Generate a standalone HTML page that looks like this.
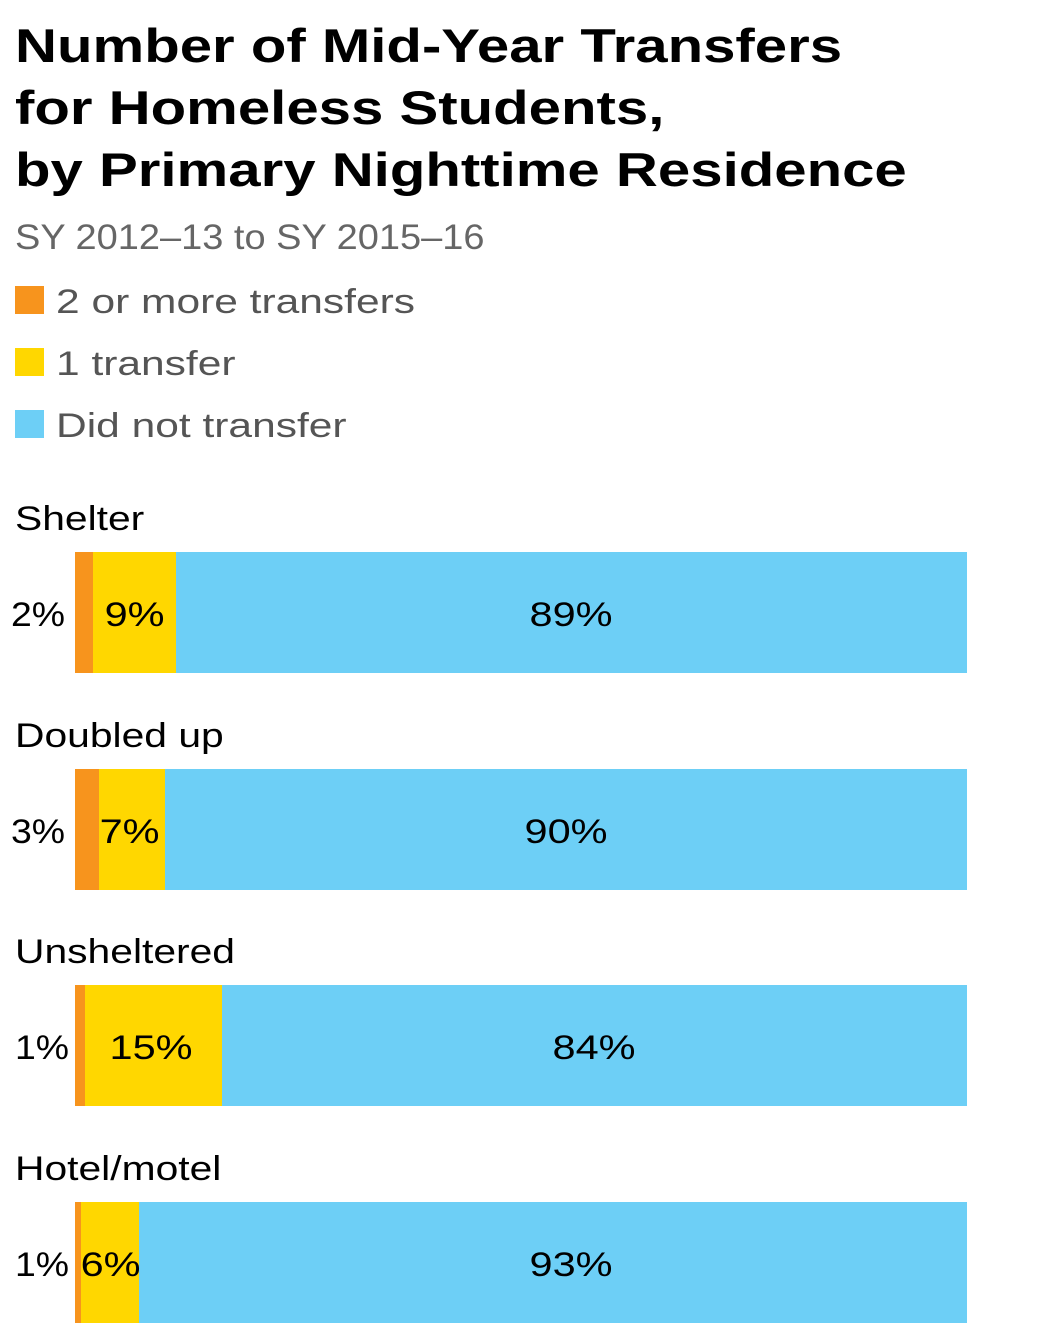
<!DOCTYPE html>
<html><head><meta charset="utf-8"><style>
body{margin:0;width:1050px;height:1338px;background:#fff;font-family:"Liberation Sans",sans-serif;position:relative;overflow:hidden}
.a{position:absolute;white-space:nowrap;transform-origin:0 0}
.t{left:15px;font-weight:bold;font-size:47px;color:#000;transform:scaleX(1.237)}
.sw{position:absolute;left:15px;width:29px;height:28px}
.lg{left:56px;font-size:34px;color:#555;transform:scaleX(1.25)}
.cat{left:15px;font-size:34px;color:#000;transform:scaleX(1.2)}
.bar{position:absolute;height:121px}
.v{font-size:34px;color:#000;position:absolute;text-align:center}
.v span{display:inline-block;transform:scaleX(1.22)}
.v span.l{transform-origin:0 0;transform:scaleX(1.1)}
</style></head><body>
<div class="a t" style="top:18px">Number of Mid-Year Transfers</div>
<div class="a t" style="top:80px">for Homeless Students,</div>
<div class="a t" style="top:142px">by Primary Nighttime Residence</div>
<div class="a" style="left:15px;top:218px;font-size:35px;color:#666;transform:scaleX(1.085)">SY 2012–13 to SY 2015–16</div>
<div class="sw" style="top:286px;background:#F7941D"></div><div class="a lg" style="top:283px">2 or more transfers</div>
<div class="sw" style="top:348px;background:#FFD700"></div><div class="a lg" style="top:345px">1 transfer</div>
<div class="sw" style="top:410px;background:#6DCFF6"></div><div class="a lg" style="top:407px">Did not transfer</div>

<div class="a cat" style="top:500px">Shelter</div>
<div class="bar" style="top:552px;left:75px;width:18px;background:#F7941D"></div>
<div class="bar" style="top:552px;left:93px;width:83px;background:#FFD700"></div>
<div class="bar" style="top:552px;left:176px;width:791px;background:#6DCFF6"></div>
<div class="v" style="left:11px;top:596px"><span class="l">2%</span></div>
<div class="v" style="left:93px;width:83px;top:596px"><span>9%</span></div>
<div class="v" style="left:176px;width:791px;top:596px"><span>89%</span></div>

<div class="a cat" style="top:717px">Doubled up</div>
<div class="bar" style="top:769px;left:75px;width:24px;background:#F7941D"></div>
<div class="bar" style="top:769px;left:99px;width:66px;background:#FFD700"></div>
<div class="bar" style="top:769px;left:165px;width:802px;background:#6DCFF6"></div>
<div class="v" style="left:11px;top:813px"><span class="l">3%</span></div>
<div class="v" style="left:99px;width:62px;top:813px"><span>7%</span></div>
<div class="v" style="left:165px;width:802px;top:813px"><span>90%</span></div>

<div class="a cat" style="top:933px">Unsheltered</div>
<div class="bar" style="top:985px;left:75px;width:10px;background:#F7941D"></div>
<div class="bar" style="top:985px;left:85px;width:137px;background:#FFD700"></div>
<div class="bar" style="top:985px;left:222px;width:745px;background:#6DCFF6"></div>
<div class="v" style="left:15px;top:1029px"><span class="l">1%</span></div>
<div class="v" style="left:85px;width:132px;top:1029px"><span>15%</span></div>
<div class="v" style="left:222px;width:745px;top:1029px"><span>84%</span></div>

<div class="a cat" style="top:1150px">Hotel/motel</div>
<div class="bar" style="top:1202px;left:75px;width:6px;background:#F7941D"></div>
<div class="bar" style="top:1202px;left:81px;width:58px;background:#FFD700"></div>
<div class="bar" style="top:1202px;left:139px;width:828px;background:#6DCFF6"></div>
<div class="v" style="left:15px;top:1246px"><span class="l">1%</span></div>
<div class="v" style="left:82px;width:58px;top:1246px"><span>6%</span></div>
<div class="v" style="left:139px;width:865px;top:1246px"><span>93%</span></div>
</body></html>
